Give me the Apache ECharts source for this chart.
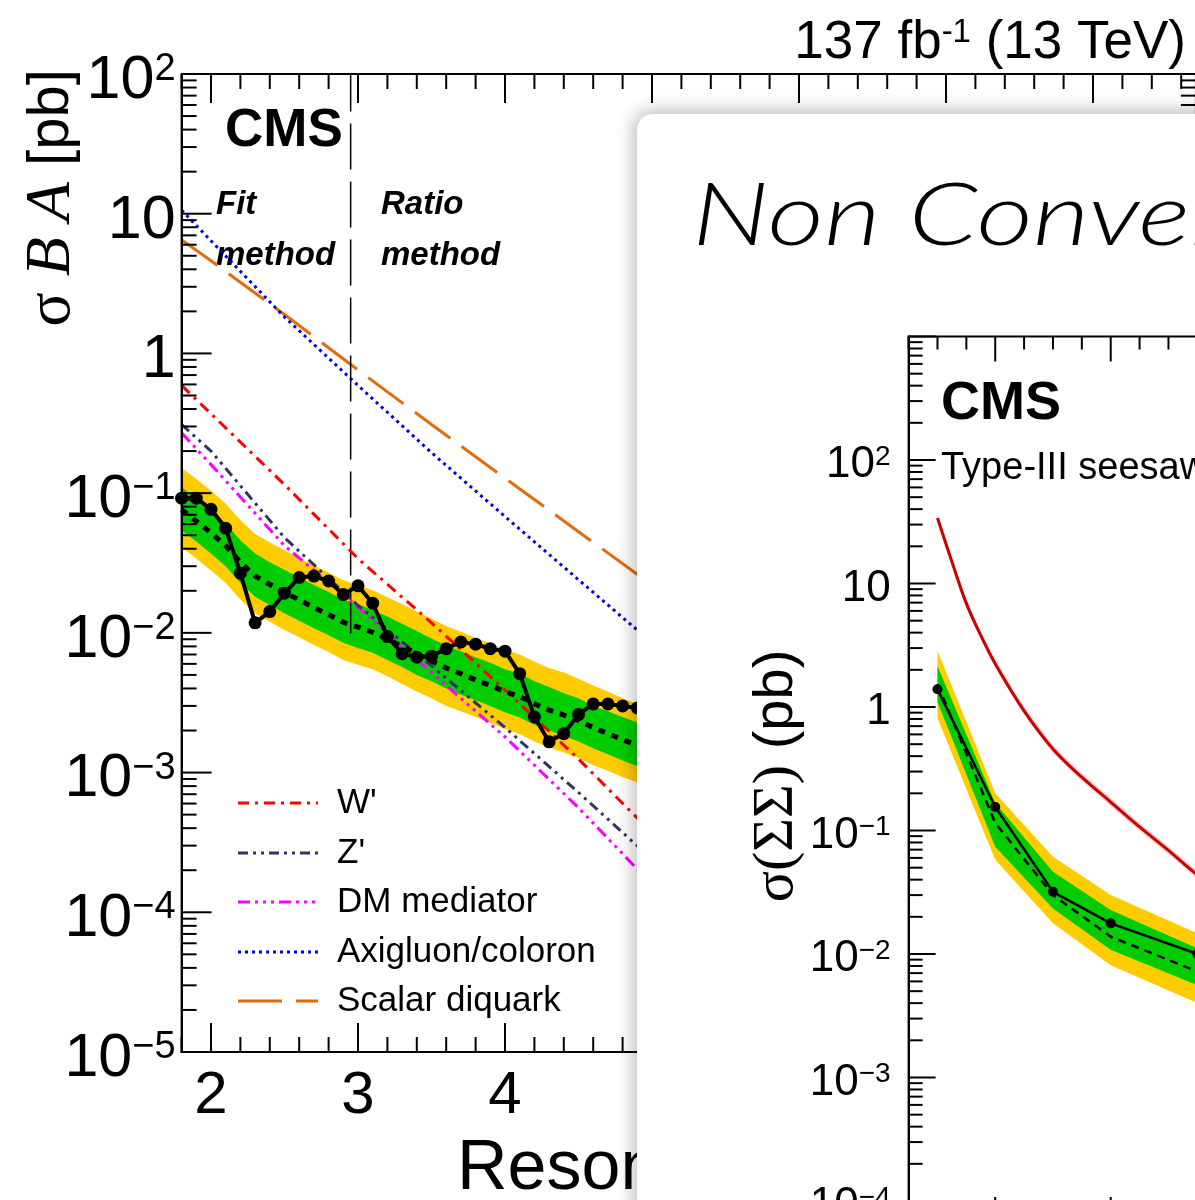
<!DOCTYPE html>
<html><head><meta charset="utf-8">
<script src="https://cdn.jsdelivr.net/npm/echarts@6/dist/echarts.min.js"></script>
<style>
html,body{margin:0;padding:0;width:1195px;height:1200px;overflow:hidden;background:#fff;}
#c1{position:absolute;left:0;top:0;width:1195px;height:1200px;z-index:1;}
#card{position:absolute;left:637px;top:114px;width:720px;height:1300px;background:#fff;border-radius:16px;box-shadow:0 0 18px 4px rgba(0,0,0,0.26);z-index:2;}
#c2{position:absolute;left:0;top:0;width:1195px;height:1200px;z-index:3;}
</style></head><body>
<div id="c1"></div><div id="card"></div><div id="c2"></div>
<script>
// ---------------- Main chart data (dijet resonances) ----------------
const massPts = [1.8,1.9,2.0,2.1,2.2,2.3,2.4,2.5,2.6,2.7,2.8,2.9,3.0,3.1,3.2,3.3,3.4,3.5,3.6,3.7,3.8,3.9,4.0,4.1,4.2,4.3,4.4,4.5,4.6,4.7,4.8,4.9,5.0];
const obsLimit = [0.092,0.092,0.0766,0.056,0.0267,0.0118,0.0142,0.0192,0.0249,0.0255,0.0235,0.0188,0.0217,0.0163,0.0094,0.0071,0.0067,0.0068,0.0077,0.0086,0.0083,0.0077,0.0074,0.0051,0.0025,0.00166,0.0019,0.0026,0.0031,0.0031,0.0030,0.0029,0.0028];
const expLimit = [0.076,0.063,0.052,0.042,0.032,0.0255,0.0222,0.0195,0.0172,0.0152,0.0135,0.0119,0.0110,0.0101,0.0090,0.0080,0.0071,0.0063,0.0056,0.0051,0.0046,0.0042,0.0038,0.0035,0.0031,0.0028,0.00258,0.00235,0.0021,0.0019,0.00172,0.00157,0.00143];
const expUp2 = [0.152,0.126,0.104,0.084,0.064,0.051,0.0444,0.039,0.0344,0.0304,0.027,0.0238,0.022,0.0202,0.018,0.016,0.0142,0.0126,0.0112,0.0102,0.0092,0.0084,0.0076,0.0070,0.0062,0.0056,0.0052,0.0047,0.0042,0.0038,0.0034,0.0031,0.0029];
const expUp1 = [0.110,0.091,0.075,0.061,0.046,0.037,0.032,0.0283,0.0249,0.022,0.0196,0.0173,0.016,0.0146,0.0131,0.0116,0.0103,0.0091,0.0081,0.0074,0.0067,0.0061,0.0055,0.0051,0.0045,0.0041,0.0037,0.0034,0.0030,0.00275,0.0025,0.00228,0.0021];
const expDn1 = [0.054,0.045,0.037,0.030,0.0227,0.0181,0.0158,0.0138,0.0122,0.0108,0.0096,0.0085,0.0078,0.0072,0.0064,0.0057,0.0050,0.0045,0.0040,0.0036,0.0033,0.0030,0.0027,0.00248,0.0022,0.0020,0.00183,0.00167,0.00149,0.00135,0.00122,0.00111,0.00102];
const expDn2 = [0.041,0.034,0.028,0.0227,0.0173,0.0138,0.012,0.0105,0.0093,0.0082,0.0073,0.0064,0.0059,0.0055,0.0049,0.0043,0.0038,0.0034,0.0030,0.00275,0.0025,0.00227,0.00205,0.00189,0.00167,0.00151,0.00139,0.00127,0.00113,0.00103,0.00093,0.00085,0.00077];

const theoryMass = [1.8,2.0,2.5,3.0,3.5,4.0,4.5,5.0];
const theoryNames = ["W'", "Z'", "DM mediator", "Axigluon/coloron", "Scalar diquark"];
const xsecWprime = [0.59,0.37,0.115,0.034,0.0118,0.0039,0.00125,0.00037];
const xsecZprime = [0.31,0.20,0.048,0.0157,0.0058,0.0021,0.00072,0.00024];
const xsecDM     = [0.27,0.16,0.042,0.0153,0.0052,0.0018,0.00056,0.000158];
const xsecAxi    = [10.6,6.4,1.82,0.59,0.195,0.068,0.024,0.0085];
const xsecDiq    = [6.5,4.6,1.9,0.76,0.31,0.128,0.053,0.022];
const methodBoundary = 2.95;

const mainXTickLabels = [2,3,4,5,6,7,8];
const mainYExps = [-5,-4,-3,-2,-1,0,1,2];
const mainYBase = ['10','10','10','10','10','1','10','10'];
const mainYSup  = ['\u22125','\u22124','\u22123','\u22122','\u22121','','','2'];

// ---------------- Inset chart data (type-III seesaw) ----------------
const sigMass = [100,200,300,400,550];
const sigObs  = [1.39,0.155,0.0319,0.0177,0.0100];
const sigExp  = [1.53,0.115,0.030,0.0138,0.0072];
const sigUp2  = [2.86,0.20,0.0614,0.030,0.0147];
const sigUp1  = [2.15,0.167,0.0464,0.0227,0.0111];
const sigDn1  = [1.10,0.074,0.0234,0.0108,0.0056];
const sigDn2  = [0.81,0.058,0.0177,0.0081,0.0040];
const seeMass   = [100,125,150,175,200,250,300,350,400,450,500,550,600,700];
const seeXsec   = [33.9,15.0,6.9,3.8,2.24,0.93,0.457,0.27,0.17,0.107,0.069,0.0437,0.030,0.0151];
const seeXsecHi = [36.4,16.1,7.4,4.08,2.40,1.0,0.49,0.29,0.183,0.115,0.074,0.047,0.0322,0.0162];
const seeXsecLo = [31.5,13.9,6.4,3.53,2.08,0.865,0.425,0.251,0.158,0.0995,0.064,0.0406,0.0279,0.014];
const insetYExps = [-4,-3,-2,-1,0,1,2];
const insetYBase = ['10','10','10','10','1','10','10'];
const insetYSup  = ['\u22124','\u22123','\u22122','\u22121','','','2'];

// ---------------- helpers ----------------
const pairs = (xs, ys) => xs.map((x, i) => [x, ys[i]]);
function band(xs, lo, hi, color, z, gi) {
  return {
    type: 'custom', xAxisIndex: gi || 0, yAxisIndex: gi || 0, z: z, silent: true, clip: true,
    data: [[xs[0], hi[0]]],
    renderItem: function (params, api) {
      const pts = [];
      for (let i = 0; i < xs.length; i++) pts.push(api.coord([xs[i], hi[i]]));
      for (let i = xs.length - 1; i >= 0; i--) pts.push(api.coord([xs[i], lo[i]]));
      return { type: 'polygon', shape: { points: pts, smooth: 0 }, style: { fill: color } };
    }
  };
}
function ticks(xMaj, xMin, yMaj, yMin, L) {
  return {
    type: 'custom', z: 30, silent: true, clip: false,
    data: [[xMaj[0], yMaj[0]]],
    renderItem: function (params, api) {
      const cs = params.coordSys;
      const kids = [];
      const add = (x1, y1, x2, y2) => kids.push({ type: 'line', shape: { x1, y1, x2, y2 }, style: { stroke: '#000', lineWidth: L.w } });
      const yb = cs.y + cs.height, yt = cs.y, xl = cs.x, xr = cs.x + cs.width;
      xMaj.forEach(v => { const p = api.coord([v, yMaj[0]])[0]; add(p, yb, p, yb - L.xM); add(p, yt, p, yt + L.xM); });
      xMin.forEach(v => { const p = api.coord([v, yMaj[0]])[0]; add(p, yb, p, yb - L.xm); add(p, yt, p, yt + L.xm); });
      yMaj.forEach(v => { const p = api.coord([xMaj[0], v])[1]; add(xl, p, xl + L.yM, p); add(xr, p, xr - L.yM, p); });
      yMin.forEach(v => { const p = api.coord([xMaj[0], v])[1]; add(xl, p, xl + L.ym, p); add(xr, p, xr - L.ym, p); });
      return { type: 'group', children: kids };
    }
  };
}
function decadeMinors(e0, e1) { const r = []; for (let e = e0; e <= e1; e++) for (let k = 2; k <= 9; k++) r.push(k * Math.pow(10, e)); return r; }
function decades(e0, e1) { const r = []; for (let e = e0; e <= e1; e++) r.push(Math.pow(10, e)); return r; }
function labelFmt(exps, base, sup) {
  return function (v) {
    const i = exps.indexOf(Math.round(Math.log10(v)));
    if (i < 0) return '';
    return '{b|' + base[i] + '}' + (sup[i] ? '{s|' + sup[i] + '}' : '');
  };
}
const SANS = 'Liberation Sans';

// ---------------- main chart ----------------
const mainXMajor = [2,3,4,5,6,7,8];
const mainXMinor = []; for (let i = 0; i <= 34; i++) { const v = Math.round((1.8 + 0.2 * i) * 10) / 10; if (Math.abs(v - Math.round(v)) > 1e-6) mainXMinor.push(v); }
const theoryStyles = [
  { c: '#FF0000', d: [11, 6, 3, 6] },
  { c: '#333366', d: [10, 5, 3, 5, 3, 5] },
  { c: '#FF00FF', d: [12, 5, 3, 5, 3, 5, 3, 5] },
  { c: '#0000DD', d: [3, 4] },
  { c: '#E36C0A', d: [44, 14] }
];
const theoryVals = [xsecWprime, xsecZprime, xsecDM, xsecAxi, xsecDiq];

const c1 = echarts.init(document.getElementById('c1'));
const legendY = [803, 853, 902, 952, 1001];
const legendGraphics = [];
theoryNames.forEach((n, i) => {
  legendGraphics.push({ type: 'line', shape: { x1: 238, y1: legendY[i], x2: 318, y2: legendY[i] }, style: { stroke: theoryStyles[i].c, lineWidth: 3, lineDash: theoryStyles[i].d } });
  legendGraphics.push({ type: 'text', x: 337, y: legendY[i], style: { text: n, fontSize: 35, fontFamily: SANS, fill: '#000', align: 'left', verticalAlign: 'middle', textAlign: 'left', textVerticalAlign: 'middle' } });
});
const bi = { fontSize: 33, fontFamily: SANS, fontWeight: 'bold', fontStyle: 'italic', fill: '#000', align: 'left', verticalAlign: 'middle', textAlign: 'left', textVerticalAlign: 'middle' };

c1.setOption({
  animation: false,
  backgroundColor: '#fff',
  grid: { left: 181.6, top: 74, width: 1014.3, height: 978, outerBoundsMode: 'none', containLabel: false, show: true, borderColor: '#000', borderWidth: 2, backgroundColor: 'transparent' },
  xAxis: {
    type: 'value', min: 1.8, max: 8.7, z: 10,
    axisLine: { show: true, lineStyle: { color: '#000', width: 2 } },
    axisTick: { show: false }, splitLine: { show: false },
    axisLabel: { show: true, customValues: mainXTickLabels, fontSize: 60, fontFamily: SANS, color: '#000', margin: 14 }
  },
  yAxis: {
    type: 'log', logBase: 10, min: 1e-5, max: 100, z: 10,
    axisLine: { show: true, lineStyle: { color: '#000', width: 2 } },
    axisTick: { show: false }, splitLine: { show: false },
    axisLabel: {
      formatter: labelFmt(mainYExps, mainYBase, mainYSup), margin: 6, padding: [14, 0, 0, 0],
      rich: {
        b: { fontSize: 61, fontFamily: SANS, color: '#000', lineHeight: 61, verticalAlign: 'bottom' },
        s: { fontSize: 38, fontFamily: SANS, color: '#000', lineHeight: 38, verticalAlign: 'top' }
      }
    }
  },
  graphic: [
    { type: 'text', x: 1186, y: 43, style: { text: '{a|137 fb}{s|-1}{a| (13 TeV)}', rich: { a: { fontSize: 53, fontFamily: SANS, fill: '#000', lineHeight: 53, verticalAlign: 'bottom' }, s: { fontSize: 33, fontFamily: SANS, fill: '#000', lineHeight: 33, verticalAlign: 'top' } }, align: 'right', verticalAlign: 'middle', textAlign: 'right', textVerticalAlign: 'middle' } },
    { type: 'text', x: 225, y: 131, style: { text: 'CMS', fontSize: 53, fontFamily: SANS, fontWeight: 'bold', fill: '#000', align: 'left', verticalAlign: 'middle', textAlign: 'left', textVerticalAlign: 'middle' } },
    { type: 'text', x: 216, y: 205, style: Object.assign({ text: 'Fit' }, bi) },
    { type: 'text', x: 216, y: 256, style: Object.assign({ text: 'method' }, bi) },
    { type: 'text', x: 381, y: 205, style: Object.assign({ text: 'Ratio' }, bi) },
    { type: 'text', x: 381, y: 256, style: Object.assign({ text: 'method' }, bi) },
    { type: 'text', x: 52, y: 198, rotation: Math.PI / 2, style: { text: '{g|σ }{i|B A}{n| [pb]}', rich: { g: { fontSize: 64, fontFamily: 'Liberation Serif', fill: '#000' }, i: { fontSize: 64, fontFamily: 'Liberation Serif', fontStyle: 'italic', fill: '#000' }, n: { fontSize: 58, fontFamily: SANS, fill: '#000' } }, align: 'center', verticalAlign: 'middle', textAlign: 'center', textVerticalAlign: 'middle' } },
    { type: 'text', x: 457, y: 1170, style: { text: 'Resonance mass [TeV]', fontSize: 70, fontFamily: SANS, fill: '#000', align: 'left', verticalAlign: 'middle', textAlign: 'left', textVerticalAlign: 'middle' } }
  ].concat(legendGraphics),
  series: [
    band(massPts, expDn2, expUp2, '#FFCC00', 1),
    band(massPts, expDn1, expUp1, '#00CC00', 2),
    ...theoryVals.map((vals, i) => ({
      type: 'line', name: theoryNames[i], data: pairs(theoryMass, vals), symbol: 'none', z: 3 + (4 - i) * 0.01,
      lineStyle: { color: theoryStyles[i].c, width: 3, type: theoryStyles[i].d }
    })),
    { type: 'line', name: 'method boundary', data: [[methodBoundary, 0.0099], [methodBoundary, 100]], symbol: 'none', z: 3, lineStyle: { color: '#000', width: 1.5, type: [46, 12] } },
    { type: 'line', name: 'Expected', data: pairs(massPts, expLimit), symbol: 'none', z: 4, lineStyle: { color: '#000', width: 5, type: [7, 7] } },
    { type: 'line', name: 'Observed', data: pairs(massPts, obsLimit), symbol: 'circle', symbolSize: 13, showAllSymbol: true, clip: false, z: 5, itemStyle: { color: '#000' }, lineStyle: { color: '#000', width: 4 } },
    ticks(mainXMajor, mainXMinor, decades(-5, 2), decadeMinors(-5, 1), { w: 2, xM: 29, xm: 15, yM: 30, ym: 15 })
  ]
});

// ---------------- inset chart ----------------
const insetXMajor = [200, 400, 600, 800, 1000];
const insetXMinor = []; for (let v = 50; v <= 1000; v += 50) if (v % 200 !== 0) insetXMinor.push(v);
const c2 = echarts.init(document.getElementById('c2'));
c2.setOption({
  animation: false,
  backgroundColor: 'transparent',
  grid: { left: 908.6, top: 336.5, width: 548.6, height: 885.5, outerBoundsMode: 'none', containLabel: false, show: true, borderColor: '#000', borderWidth: 2, backgroundColor: 'transparent' },
  xAxis: { type: 'value', min: 50, max: 1000, z: 10, axisLine: { show: true, lineStyle: { color: '#000', width: 2 } }, axisTick: { show: false }, splitLine: { show: false }, axisLabel: { show: false } },
  yAxis: {
    type: 'log', logBase: 10, min: 6.76e-5, max: 1000, z: 10,
    axisLine: { show: true, lineStyle: { color: '#000', width: 2 } }, axisTick: { show: false }, splitLine: { show: false },
    axisLabel: {
      formatter: labelFmt(insetYExps, insetYBase, insetYSup), showMinLabel: false, showMaxLabel: false, margin: 18, padding: [10, 0, 0, 0],
      rich: {
        b: { fontSize: 44, fontFamily: SANS, color: '#000', lineHeight: 44, verticalAlign: 'bottom' },
        s: { fontSize: 28, fontFamily: SANS, color: '#000', lineHeight: 28, verticalAlign: 'top' }
      }
    }
  },
  graphic: [
    { type: 'text', x: 692, y: 217, scaleX: 1.28, style: { text: 'Non Conventional', fontSize: 86, fontFamily: 'Lato', fontWeight: 300, fontStyle: 'italic', fill: '#000', align: 'left', verticalAlign: 'middle', textAlign: 'left', textVerticalAlign: 'middle' } },
    { type: 'text', x: 941, y: 404, style: { text: 'CMS', fontSize: 54, fontFamily: SANS, fontWeight: 'bold', fill: '#000', align: 'left', verticalAlign: 'middle', textAlign: 'left', textVerticalAlign: 'middle' } },
    { type: 'text', x: 941, y: 469, style: { text: 'Type-III seesaw', fontSize: 38, fontFamily: SANS, fill: '#000', align: 'left', verticalAlign: 'middle', textAlign: 'left', textVerticalAlign: 'middle' } },
    { type: 'text', x: 777, y: 776, rotation: Math.PI / 2, style: { text: '{g|σ(ΣΣ)}{n| (pb)}', rich: { g: { fontSize: 58, fontFamily: 'Liberation Serif', fill: '#000' }, n: { fontSize: 56, fontFamily: SANS, fill: '#000' } }, align: 'center', verticalAlign: 'middle', textAlign: 'center', textVerticalAlign: 'middle' } }
  ],
  series: [
    band(sigMass, sigDn2, sigUp2, '#FFCC00', 1),
    band(sigMass, sigDn1, sigUp1, '#00CC00', 2),
    band(seeMass, seeXsecLo, seeXsecHi, 'rgba(230,60,60,0.25)', 2.5),
    { type: 'line', name: 'Type-III seesaw', data: pairs(seeMass, seeXsec), symbol: 'none', smooth: 0.4, z: 3, lineStyle: { color: '#CC0000', width: 3 } },
    { type: 'line', name: 'Expected', data: pairs(sigMass, sigExp), symbol: 'none', z: 4, lineStyle: { color: '#000', width: 2.5, type: [8, 6] } },
    { type: 'line', name: 'Observed', data: pairs(sigMass, sigObs), symbol: 'circle', symbolSize: 10, clip: false, z: 5, itemStyle: { color: '#000' }, lineStyle: { color: '#000', width: 2.5 } },
    ticks(insetXMajor, insetXMinor, decades(-4, 3), decadeMinors(-5, 2), { w: 2, xM: 25, xm: 13, yM: 27, ym: 14 })
  ]
});
</script></body></html>
